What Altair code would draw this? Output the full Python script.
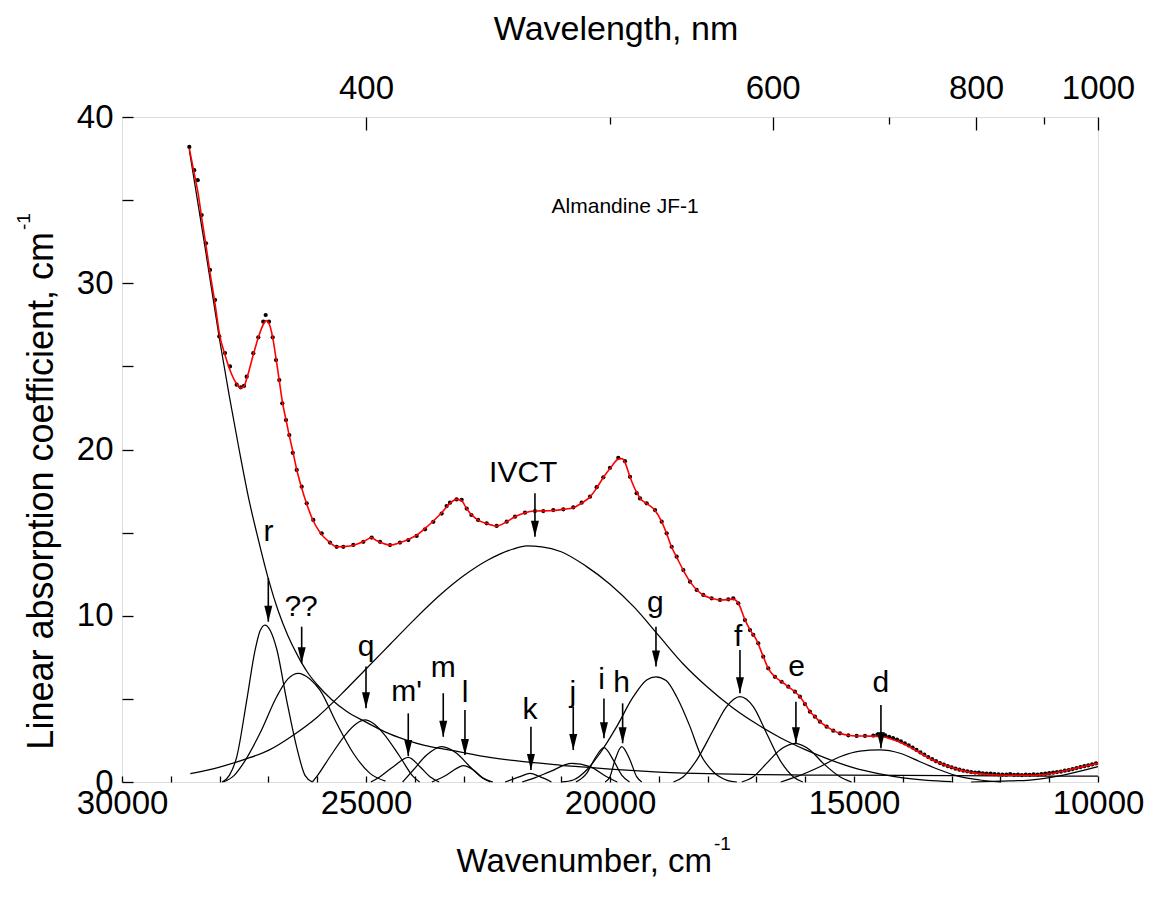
import altair as alt
import pandas as pd

# ---------------- data ----------------
FIT_WN = [28620, 28520, 28440, 28370, 28280, 28200, 28100, 28000, 27890, 27790, 27650, 27570, 27500, 27440,
          27310, 27200, 27100, 27040, 26990, 26910, 26840, 26780, 26710, 26640, 26570, 26500, 26420, 26320,
          26200, 26080, 25940, 25740, 25600, 25330, 25150, 25000, 24890, 24800, 24700, 24500, 24300, 24130,
          23960, 23790, 23620, 23450, 23300, 23150, 23050, 22940, 22830, 22700, 22530, 22320, 22120, 21950,
          21740, 21540, 21230, 20960, 20750, 20580, 20410, 20270, 20140, 20000, 19830, 19750, 19690, 19590,
          19450, 19380, 19250, 19080, 18940, 18840, 18740, 18630, 18500, 18360, 18220, 18090, 17920, 17750,
          17580, 17480, 17370, 17240, 17130, 17000, 16860, 16760, 16620, 16480, 16350, 16210, 16110, 16000,
          15900, 15800, 15700, 15560, 15420, 15290, 15120, 14950, 14700, 14450, 14180, 13840, 13440, 13030,
          12620, 12080, 11400, 10920, 10500, 10000]
FIT_A = [38.1, 36.6, 35.4, 34.0, 32.3, 30.7, 28.9, 26.9, 25.7, 24.8, 23.95, 23.7, 23.8, 24.3,
         25.7, 26.8, 27.55, 27.75, 27.6, 26.7, 25.4, 24.2, 22.8, 21.8, 20.8, 19.9, 18.8, 17.7,
         16.6, 15.7, 15.0, 14.4, 14.15, 14.2, 14.35, 14.55, 14.7, 14.55, 14.4, 14.25, 14.4, 14.6,
         14.85, 15.25, 15.7, 16.2, 16.7, 17.0, 16.95, 16.45, 16.05, 15.75, 15.55, 15.4, 15.65, 15.95,
         16.2, 16.3, 16.32, 16.4, 16.5, 16.78, 17.15, 17.7, 18.3, 18.85, 19.42, 19.45, 19.2, 18.35,
         17.4, 17.05, 16.75, 16.35, 15.65, 14.95, 14.15, 13.5, 12.75, 12.05, 11.55, 11.25, 11.05, 10.95,
         10.97, 11.0, 10.75, 9.8, 9.15, 8.55, 7.55, 6.85, 6.33, 6.03, 5.73, 5.43, 5.13, 4.69,
         4.23, 3.93, 3.63, 3.33, 3.09, 2.93, 2.81, 2.77, 2.76, 2.74, 2.52, 2.08, 1.4, 0.9,
         0.58, 0.42, 0.4, 0.53, 0.8, 1.12]

MEAS_WN = [28621, 28521, 28449, 28367, 28279, 28197, 28094, 28006, 27890, 27787, 27650, 27568, 27500, 27445,
           27310, 27207, 27105, 27056, 26988, 26912, 26844, 26777, 26715, 26640, 26572, 26500, 26420, 26318,
           26215, 26080, 25908, 25738, 25601, 25465, 25260, 25055, 24884, 24713, 24508, 24304, 24133, 23962,
           23791, 23621, 23450, 23348, 23279, 23143, 23040, 22937, 22840, 22703, 22527, 22322, 22117, 21947,
           21742, 21537, 21367, 21162, 20957, 20752, 20581, 20410, 20273, 20137, 20000, 19830, 19693, 19590,
           19454, 19385, 19249, 19078, 18941, 18839, 18736, 18634, 18497, 18361, 18224, 18088, 17917, 17746,
           17576, 17474, 17371, 17235, 17132, 17064, 16962, 16860, 16757, 16620, 16484, 16347, 16210, 16108,
           16006, 15903, 15800, 15698, 15561, 15425, 15288, 15117, 14946, 14775, 14604,
           14520, 14440, 14360, 14280, 14200, 14120, 14040, 13960, 13880, 13800, 13720, 13640, 13560, 13480,
           13400, 13320, 13240, 13160, 13080, 13000, 12920, 12840, 12760, 12680, 12600, 12520, 12440, 12360,
           12280, 12200, 12120, 12040, 11960, 11880, 11800, 11720, 11640, 11560, 11480, 11400, 11320, 11240,
           11160, 11080, 11000, 10920, 10840, 10760, 10680, 10600, 10520, 10440, 10360, 10280, 10200, 10120,
           10040]
MEAS_A = [38.2, 36.8, 36.2, 34.1, 32.4, 30.8, 29.0, 26.8, 25.8, 25.0, 23.9, 23.74, 23.82, 24.38,
          25.79, 26.75, 27.69, 28.09, 27.69, 26.75, 25.38, 24.18, 22.78, 21.77, 20.87, 19.8, 18.77, 17.76,
          16.76, 15.76, 14.96, 14.4, 14.15, 14.15, 14.26, 14.45, 14.7, 14.45, 14.25, 14.4, 14.55, 14.8,
          15.2, 15.65, 16.15, 16.6, 16.8, 17.0, 16.97, 16.45, 16.06, 15.76, 15.56, 15.4, 15.66, 15.96,
          16.2, 16.3, 16.3, 16.36, 16.4, 16.52, 16.8, 17.16, 17.73, 18.33, 18.9, 19.5, 19.3, 18.36,
          17.37, 17.06, 16.76, 16.36, 15.66, 14.96, 14.15, 13.55, 12.75, 12.05, 11.55, 11.25, 11.05, 10.95,
          10.99, 11.05, 10.75, 9.74, 9.14, 8.85, 8.34, 7.54, 6.84, 6.33, 6.03, 5.73, 5.43, 5.13,
          4.69, 4.23, 3.93, 3.63, 3.33, 3.09, 2.93, 2.81, 2.77, 2.77, 2.79,
          2.85, 2.86, 2.8, 2.72, 2.64, 2.55, 2.44, 2.33, 2.2, 2.07, 1.93, 1.78, 1.64, 1.5,
          1.37, 1.25, 1.14, 1.04, 0.96, 0.88, 0.8, 0.74, 0.68, 0.64, 0.6, 0.57, 0.56, 0.52,
          0.5, 0.5, 0.47, 0.46, 0.45, 0.44, 0.47, 0.43, 0.44, 0.42, 0.45, 0.43, 0.46, 0.45,
          0.48, 0.5, 0.53, 0.56, 0.6, 0.63, 0.68, 0.72, 0.78, 0.84, 0.9, 0.95, 1.0, 1.06,
          1.12]

UV_WN = [28620, 28300, 28000, 27800, 27600, 27400, 27200, 27000, 26800, 26600, 26400, 26200, 26000, 25700,
         25400, 25000, 24600, 24200, 23800, 23400, 23000, 22500, 22000, 21500, 21000, 20500, 20000, 19500,
         19000, 18500, 18000, 17000, 16000, 14000, 12000, 10000]
UV_A = [38.0, 32.2, 26.6, 23.2, 20.0, 17.0, 14.5, 12.2, 10.3, 8.8, 7.6, 6.6, 5.85, 4.95,
        4.25, 3.6, 3.0, 2.55, 2.2, 1.98, 1.77, 1.5, 1.3, 1.15, 1.0, 0.9, 0.78, 0.68,
        0.6, 0.54, 0.5, 0.45, 0.42, 0.4, 0.37, 0.35]

IVCT_WN = [28600, 28000, 27500, 27000, 26500, 26000, 25500, 25000, 24500, 24000, 23500, 23000, 22500, 22000,
           21700, 21400, 21000, 20500, 20000, 19500, 19000, 18500, 18000, 17500, 17000, 16500, 16000, 15500,
           15000, 14500, 14000, 13500, 13000]
IVCT_A = [0.5, 0.9, 1.35, 1.9, 2.8, 3.9, 5.3, 6.8, 8.3, 9.8, 11.2, 12.4, 13.35, 14.0,
          14.2, 14.15, 13.85, 13.0, 11.9, 10.5, 8.8, 7.1, 5.7, 4.5, 3.5, 2.65, 1.95, 1.35,
          0.85, 0.5, 0.25, 0.1, 0.03]

R_WN = [27950, 27800, 27650, 27445, 27275, 27170, 27070, 26960, 26830, 26625, 26421, 26250, 26100]
R_A = [0, 0.4, 1.5, 4.9, 7.9, 9.1, 9.44, 9.1, 8.0, 4.9, 2.1, 0.4, 0]
QQ_WN = [27924, 27700, 27514, 27173, 26830, 26600, 26387, 26150, 25943, 25601, 25260, 24918, 24600]
QQ_A = [0, 0.4, 1.12, 2.93, 5.13, 6.2, 6.54, 6.2, 5.53, 3.53, 1.73, 0.52, 0.05]
Q_WN = [26100, 26011, 25738, 25396, 25200, 25021, 24840, 24645, 24304, 24031, 23900]
Q_A = [0, 0.32, 1.52, 2.93, 3.5, 3.73, 3.5, 2.93, 1.52, 0.32, 0]
MP_WN = [24900, 24713, 24440, 24133, 23894, 23689, 23500]
MP_A = [0, 0.32, 0.92, 1.48, 0.92, 0.32, 0]
M_WN = [24250, 24031, 23757, 23450, 23143, 22869, 22596, 22400]
M_A = [0, 0.72, 1.62, 2.13, 1.73, 0.92, 0.22, 0]
L_WN = [23650, 23348, 23143, 23006, 22800, 22596, 22450]
L_A = [0, 0.42, 0.82, 0.98, 0.72, 0.22, 0]
K_WN = [22150, 21845, 21640, 21435, 21200]
K_A = [0, 0.32, 0.52, 0.32, 0]
J_WN = [21800, 21572, 21230, 20786, 20410, 20068, 19850]
J_A = [0, 0.22, 0.62, 1.12, 0.92, 0.32, 0]
I_WN = [20700, 20479, 20307, 20123, 19932, 19760, 19600]
I_A = [0, 0.52, 1.43, 2.07, 1.32, 0.42, 0]
H_WN = [20100, 20000, 19898, 19760, 19590, 19454, 19350]
H_A = [0, 0.32, 1.32, 2.13, 1.32, 0.32, 0]
G_WN = [21000, 20752, 20479, 20205, 19863, 19522, 19249, 19060, 18850, 18634, 18361, 18156, 17880, 17600, 17400]
G_A = [0, 0.12, 0.72, 1.73, 3.33, 5.13, 6.13, 6.33, 6.1, 5.13, 3.33, 1.73, 0.6, 0.1, 0]
F_WN = [18700, 18497, 18224, 17883, 17610, 17338, 17064, 16792, 16518, 16245, 16050]
F_A = [0, 0.32, 1.32, 3.13, 4.53, 5.13, 4.53, 2.93, 1.32, 0.32, 0]
E_WN = [17300, 17064, 16792, 16518, 16207, 15903, 15630, 15288, 15050]
E_A = [0, 0.32, 1.12, 1.93, 2.33, 1.93, 1.12, 0.32, 0]
D_WN = [16500, 16176, 15698, 15288, 14878, 14468, 14058, 13648, 13238, 12828, 12418, 12000]
D_A = [0, 0.32, 0.92, 1.52, 1.86, 1.93, 1.73, 1.22, 0.72, 0.32, 0.12, 0]
NIR_WN = [12600, 12000, 11394, 10711, 10000]
NIR_A = [0, 0.05, 0.12, 0.42, 0.92]

LABEL_TEXT = ["r", "??", "q", "m'", "m", "l", "k", "j", "i", "h", "g", "f", "IVCT", "e", "d"]
LABEL_WN = [27000, 26330, 25000, 24166, 23417, 22970, 21640, 20760, 20171, 19760, 19070, 17372, 21777, 16176, 14448]
LABEL_Y = [15.05, 10.5, 8.14, 5.43, 6.84, 5.34, 4.33, 5.34, 6.14, 5.94, 10.75, 8.74, 18.57, 6.94, 5.94]
ARROW_WN = [27002, 26318, 25000, 24134, 23417, 22972, 21620, 20753, 20124, 19741, 19058, 17337, 21538, 16190, 14448]
ARROW_TOP = [12.27, 9.34, 6.94, 4.13, 5.34, 4.33, 3.33, 4.53, 5.03, 4.73, 9.34, 7.94, 17.37, 4.83, 4.63]
ARROW_TIP = [9.64, 7.14, 4.43, 1.56, 2.72, 1.62, 0.72, 1.92, 2.63, 2.33, 6.94, 5.34, 14.75, 2.33, 2.03]

BOTTOM_TICKS = list(range(10000, 30001, 1000))
LEFT_TICKS = list(range(0, 41, 5))
TOP_MAJOR_NM = [400, 600, 800, 1000]
TOP_MINOR_NM = [500, 700, 900]

# ---------------- tables ----------------
band_lists = [("uv", UV_WN, UV_A), ("ivct", IVCT_WN, IVCT_A), ("r", R_WN, R_A), ("qq", QQ_WN, QQ_A),
              ("q", Q_WN, Q_A), ("mp", MP_WN, MP_A), ("m", M_WN, M_A), ("l", L_WN, L_A), ("k", K_WN, K_A),
              ("j", J_WN, J_A), ("i", I_WN, I_A), ("h", H_WN, H_A), ("g", G_WN, G_A), ("f", F_WN, F_A),
              ("e", E_WN, E_A), ("d", D_WN, D_A), ("nir", NIR_WN, NIR_A)]
bands = pd.concat([pd.DataFrame({"wn": w, "a": a, "band": n}) for n, w, a in band_lists], ignore_index=True)
fit = pd.DataFrame({"wn": FIT_WN, "a": FIT_A})
meas = pd.DataFrame({"wn": MEAS_WN, "a": MEAS_A})
labels = pd.DataFrame({"t": LABEL_TEXT, "wn": LABEL_WN, "y": LABEL_Y})
arrows = pd.DataFrame({"wn": ARROW_WN, "top": ARROW_TOP, "tip": ARROW_TIP})

FONT = "Liberation Sans"
X = alt.Scale(domain=[10000, 30000], reverse=True, nice=False, zero=False)
Y = alt.Scale(domain=[0, 40], nice=False, zero=False)

ax_common = dict(grid=False, domain=False, title=None, labelFont=FONT, labelColor="black",
                 tickColor="black", tickWidth=1.3, labelOverlap=False, labelFlush=False)

bottom_axis = alt.Axis(orient="bottom", values=BOTTOM_TICKS, offset=-6, tickSize=6, labelPadding=5,
                       labelFontSize=33, labelExpr="datum.value % 5000 == 0 ? '' + datum.value : ''",
                       **ax_common)
left_axis = alt.Axis(orient="left", values=LEFT_TICKS, offset=-11, tickSize=11, labelPadding=9,
                     labelFontSize=33, labelExpr="datum.value % 10 == 0 ? '' + datum.value : ''",
                     **ax_common)
top_major = alt.Axis(orient="top", values=[1e7 / v for v in TOP_MAJOR_NM], offset=-13, tickSize=13,
                     labelPadding=12, labelFontSize=33, labelExpr="'' + round(10000000 / datum.value)",
                     **ax_common)
top_minor = alt.Axis(orient="top", values=[1e7 / v for v in TOP_MINOR_NM], offset=-7, tickSize=7,
                     labels=False, **ax_common)

band_layer = alt.Chart(bands).mark_line(color="black", strokeWidth=1.25, interpolate="monotone").encode(
    x=alt.X("wn:Q", scale=X, axis=bottom_axis),
    y=alt.Y("a:Q", scale=Y, axis=left_axis),
    detail="band:N",
)
meas_layer = alt.Chart(meas).mark_circle(color="black", size=18, opacity=1).encode(
    x=alt.X("wn:Q", scale=X, axis=top_major),
    y=alt.Y("a:Q", scale=Y, axis=None),
)
fit_layer = alt.Chart(fit).mark_line(color="#ff0000", strokeWidth=1.6, interpolate="monotone").encode(
    x=alt.X("wn:Q", scale=X, axis=top_minor),
    y=alt.Y("a:Q", scale=Y, axis=None),
)
shaft_layer = alt.Chart(arrows).mark_rule(color="black", strokeWidth=1.6).encode(
    x=alt.X("wn:Q", scale=X, axis=None),
    y=alt.Y("top:Q", scale=Y, axis=None),
    y2="tip:Q",
)
head_layer = alt.Chart(arrows).mark_point(
    shape="M-0.5,-1L0.5,-1L0,1Z", filled=True, color="black", opacity=1, size=256, yOffset=-8
).encode(
    x=alt.X("wn:Q", scale=X, axis=None),
    y=alt.Y("tip:Q", scale=Y, axis=None),
)
label_layer = alt.Chart(labels).mark_text(font=FONT, fontSize=30, color="black", baseline="middle").encode(
    x=alt.X("wn:Q", scale=X, axis=None),
    y=alt.Y("y:Q", scale=Y, axis=None),
    text="t:N",
)
sample = pd.DataFrame({"t": ["Almandine JF-1"], "wn": [19690], "y": [34.6]})
sample_layer = alt.Chart(sample).mark_text(font=FONT, fontSize=21, color="black", baseline="middle").encode(
    x=alt.X("wn:Q", scale=X, axis=None),
    y=alt.Y("y:Q", scale=Y, axis=None),
    text="t:N",
)


def ptext(txt, px, py, size, align="center", angle=0):
    return alt.Chart(pd.DataFrame({"t": [txt]})).mark_text(
        font=FONT, fontSize=size, color="black", align=align, baseline="middle", angle=angle
    ).encode(x=alt.value(px), y=alt.value(py), text="t:N")


titles = [
    ptext("Wavelength, nm", 494, -87, 34),
    ptext("Wavenumber, cm", 590, 745, 33, align="right"),
    ptext("-1", 592, 727, 19, align="left"),
    ptext("Linear absorption coefficient, cm", -80, 115, 36, align="right", angle=270),
    ptext("-1", -98, 113, 19, align="left", angle=270),
]

chart = alt.layer(
    band_layer, meas_layer, fit_layer, shaft_layer, head_layer, label_layer, sample_layer, *titles
).resolve_scale(x="shared", y="shared").resolve_axis(x="independent", y="independent").properties(
    width=976, height=665,
    autosize=alt.AutoSizeParams(type="none"),
    padding={"left": 114, "top": 109, "right": 46, "bottom": 104},
).configure_view(stroke="black", strokeWidth=1.5).configure(background="white")

chart.save("out.html", embed_options={"renderer": "svg", "actions": False})
